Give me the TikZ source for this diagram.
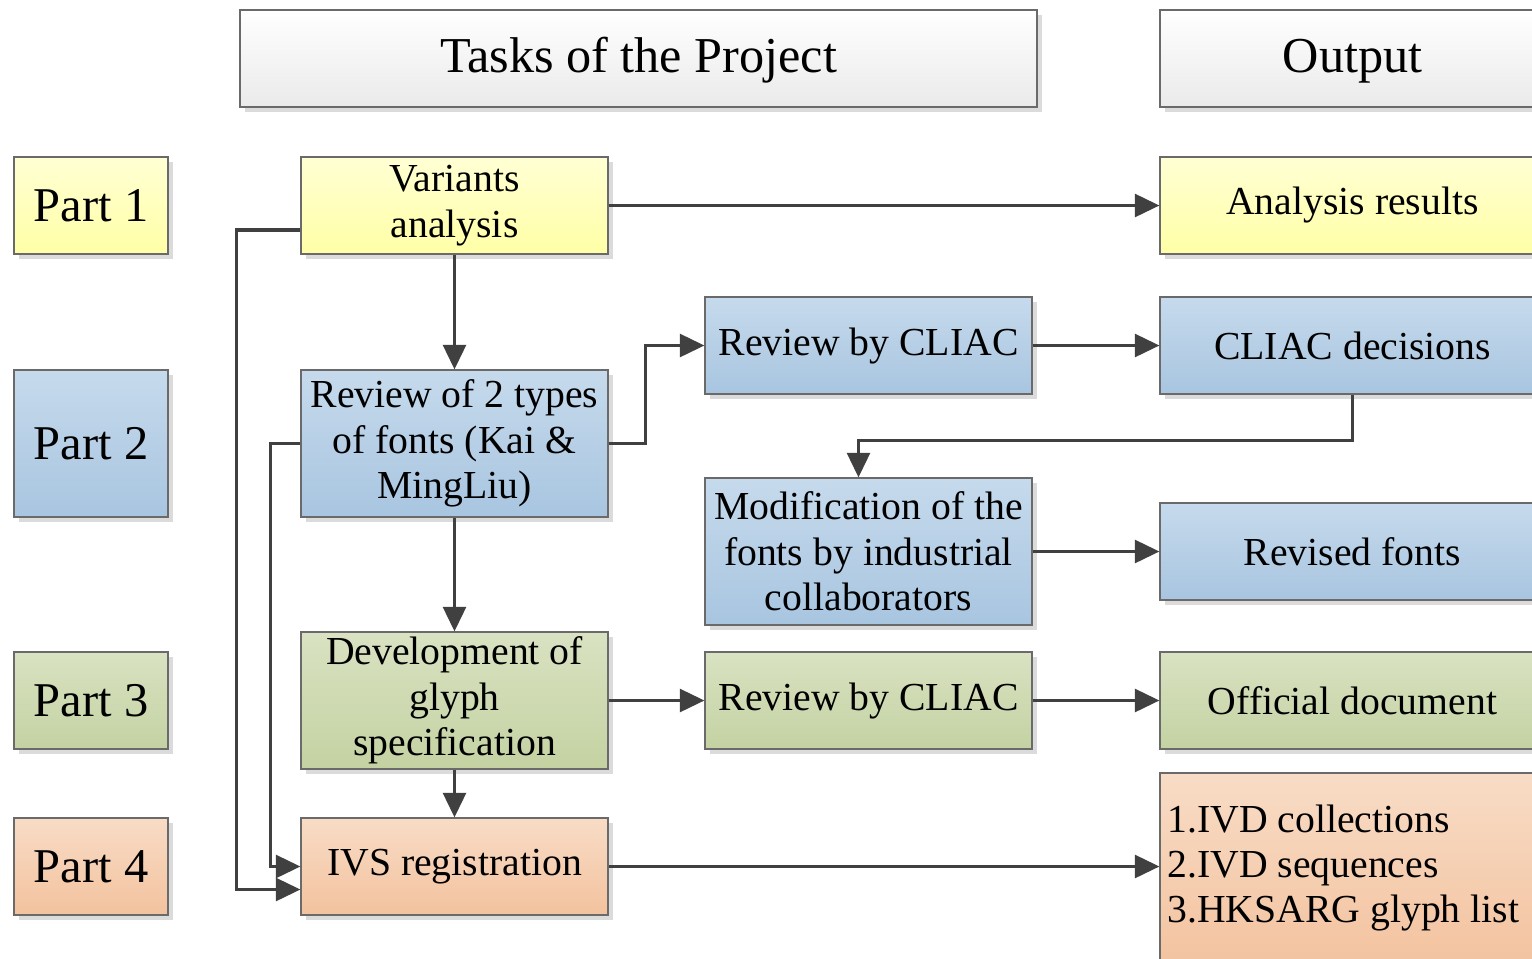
\documentclass[tikz,border=0pt]{standalone}
\usepackage{fontspec}
\setmainfont{Liberation Serif}
\usetikzlibrary{arrows.meta,shadows,calc}
\definecolor{edge}{HTML}{6A6A6A}
\definecolor{arr}{HTML}{404040}
\definecolor{yT}{HTML}{FFFFD4}\definecolor{yB}{HTML}{FFFFA6}
\definecolor{bT}{HTML}{C6DAEC}\definecolor{bB}{HTML}{A8C5E0}
\definecolor{gT}{HTML}{D9E2C2}\definecolor{gB}{HTML}{C4D2A2}
\definecolor{oT}{HTML}{F8DCC6}\definecolor{oB}{HTML}{F3C29E}
\definecolor{hT}{HTML}{FFFFFF}\definecolor{hB}{HTML}{EAEAEA}
\tikzset{
  box/.style={draw=edge, line width=0.7pt, inner sep=0pt, align=center,
    font=\fontsize{22.6}{25.8}\selectfont,
    drop shadow={fill=black!14, opacity=1, shadow xshift=0.1cm, shadow yshift=-0.1cm}},
  yel/.style={box, top color=yT, bottom color=yB},
  blu/.style={box, top color=bT, bottom color=bB},
  grn/.style={box, top color=gT, bottom color=gB},
  org/.style={box, top color=oT, bottom color=oB},
  hdr/.style={box, top color=hT, bottom color=hB, font=\fontsize{28.6}{32}\selectfont, text height=22.4pt, text depth=6pt},
  partbox/.style={minimum width=3.08cm, font=\fontsize{27.6}{32}\selectfont},
  midbox/.style={minimum width=6.14cm},
  revbox/.style={minimum width=6.54cm},
  outbox/.style={minimum width=7.7cm},
  conn/.style={draw=arr, line width=1.9pt, -{Triangle[length=14pt,width=13pt]}},
}
\begin{document}
\begin{tikzpicture}[x=0.02cm,y=-0.02cm]
\useasboundingbox (0,0) rectangle (1532,958);
\clip (0,0) rectangle (1532,958);
\fill[white] (0,0) rectangle (1532,958);
% headers
\node[hdr, minimum width=15.94cm, minimum height=1.94cm] (tasks) at (638.5,58.5) {Tasks of the Project};
\node[hdr, outbox, minimum height=1.94cm] (out) at (1352.5,58.5) {Output};
% parts
\node[yel, partbox, minimum height=1.94cm] (p1) at (91,205.5) {Part 1};
\node[blu, partbox, minimum height=2.94cm] (p2) at (91,443.5) {Part 2};
\node[grn, partbox, minimum height=1.94cm] (p3) at (91,700.5) {Part 3};
\node[org, partbox, minimum height=1.94cm] (p4) at (91,866.5) {Part 4};
% tasks
\node[yel, midbox, minimum height=1.94cm] (va) at (454.5,205.5) {Variants\\analysis};
\node[blu, midbox, minimum height=2.94cm] (r2) at (454.5,443.5) {Review of 2 types\\of fonts (Kai \&\\MingLiu)};
\node[grn, midbox, minimum height=2.74cm] (dev) at (454.5,700.5) {Development of\\glyph\\specification};
\node[org, midbox, minimum height=1.94cm] (ivs) at (454.5,866.5) {IVS registration};
% review column
\node[blu, revbox, minimum height=1.94cm] (c1) at (868.5,345.5) {Review by CLIAC};
\node[blu, revbox, minimum height=2.94cm] (mod) at (868.5,551.5) {Modification of the\\fonts by industrial\\collaborators};
\node[grn, revbox, minimum height=1.94cm] (c2) at (868.5,700.5) {Review by CLIAC};
% outputs
\node[yel, outbox, minimum height=1.94cm] (ar) at (1352.5,205.5) {Analysis results};
\node[blu, outbox, minimum height=1.94cm] (cd) at (1352.5,345.5) {CLIAC decisions};
\node[blu, outbox, minimum height=1.94cm] (rf) at (1352.5,551.5) {Revised fonts};
\node[grn, outbox, minimum height=1.94cm] (od) at (1352.5,700.5) {Official document};
\node[org, outbox, minimum height=3.94cm] (ivd) at (1352.5,871.5) {};
\node[anchor=west, align=left, inner sep=0pt, font=\fontsize{22.6}{25.8}\selectfont] (ivdt) at (1167,868) {1.IVD collections\\2.IVD sequences\\3.HKSARG glyph list};
% connectors
\draw[conn] (va.east) -- (ar.west);
\draw[conn] (va.south) -- (r2.north);
\draw[conn] (r2.east) -- ++(37,0) |- (c1.west);
\draw[conn] (c1.east) -- (cd.west);
\draw[conn] (cd.south) -- ++(0,46) -| ($(mod.north)+(-10,0)$);
\draw[conn] (mod.east) -- (rf.west);
\draw[conn] (r2.south) -- (dev.north);
\draw[conn] (dev.east) -- (c2.west);
\draw[conn] (c2.east) -- (od.west);
\draw[conn] (dev.south) -- (ivs.north);
\draw[conn] (ivs.east) -- (ivs.east -| ivd.west);
\draw[conn] (r2.west) -- ++(-30,0) |- (ivs.west);
\draw[conn] ($(va.west)+(0,24.5)$) -- ++(-64,0) |- ($(ivs.west)+(0,23)$);
\end{tikzpicture}
\end{document}
